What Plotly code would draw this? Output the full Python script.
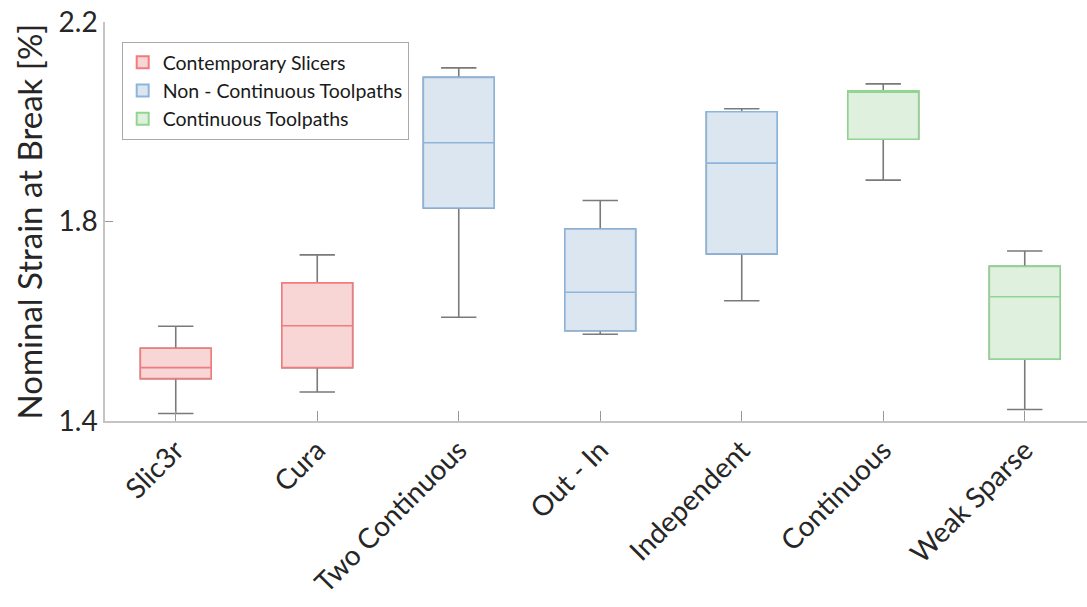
import plotly.graph_objects as go

categories = ["Slic3r", "Cura", "Two Continuous", "Out - In", "Independent", "Continuous", "Weak Sparse"]
groups = ["Contemporary Slicers", "Contemporary Slicers", "Non - Continuous Toolpaths",
          "Non - Continuous Toolpaths", "Non - Continuous Toolpaths", "Continuous Toolpaths",
          "Continuous Toolpaths"]
lower_whisker = [1.415, 1.458, 1.608, 1.574, 1.641, 1.883, 1.423]
q1 = [1.485, 1.507, 1.827, 1.581, 1.735, 1.965, 1.524]
median = [1.507, 1.591, 1.958, 1.658, 1.917, 2.059, 1.649]
q3 = [1.546, 1.677, 2.089, 1.785, 2.020, 2.062, 1.710]
upper_whisker = [1.590, 1.733, 2.108, 1.842, 2.026, 2.076, 1.741]
y_ticks = [1.4, 1.8, 2.2]

group_style = {
    "Contemporary Slicers": ("#F07C7C", "#F9D6D6"),
    "Non - Continuous Toolpaths": ("#8DB5DB", "#DCE6F0"),
    "Continuous Toolpaths": ("#92D492", "#DFF0DF"),
}

FONT = "Lato"
fig = go.Figure()
xs = list(range(1, len(categories) + 1))

# gray whiskers underneath
fig.add_trace(go.Box(
    x=xs, q1=q1, median=median, q3=q3,
    lowerfence=lower_whisker, upperfence=upper_whisker,
    width=0.5, whiskerwidth=0.5,
    line=dict(color="#7A7A7A", width=1.6),
    fillcolor="rgba(0,0,0,0)", showlegend=False, hoverinfo="skip",
    boxpoints=False,
))

for g, (lc, fc) in group_style.items():
    idx = [i for i, gg in enumerate(groups) if gg == g]
    fig.add_trace(go.Box(
        name=g,
        x=[xs[i] for i in idx],
        q1=[q1[i] for i in idx], median=[median[i] for i in idx], q3=[q3[i] for i in idx],
        lowerfence=[q1[i] for i in idx], upperfence=[q3[i] for i in idx],
        width=0.5, whiskerwidth=0,
        line=dict(color=lc, width=1.6),
        fillcolor=fc, boxpoints=False,
    ))

fig.update_layout(
    width=1087, height=607,
    margin=dict(l=105, r=0, t=22, b=186, autoexpand=False),
    boxmode="overlay",
    plot_bgcolor="white", paper_bgcolor="white",
    font=dict(family=FONT, color="#262626"),
    legend=dict(
        x=0.017, y=0.95, xanchor="left", yanchor="top",
        bordercolor="#AAAAAA", borderwidth=1, bgcolor="white",
        font=dict(family=FONT, size=19.5, color="#1a1a1a"),
        tracegroupgap=0, itemsizing="constant",
    ),
    xaxis=dict(
        range=[0.5, 7.44], tickmode="array", tickvals=xs, ticktext=categories,
        tickangle=-45, ticks="inside", ticklen=10, tickcolor="#999999",
        showline=True, linecolor="#C4C4C4", linewidth=1.5, showgrid=False, zeroline=False,
        tickfont=dict(family=FONT, size=28, color="#262626"),
        ticklabeloverflow="allow", automargin=False,
    ),
    yaxis=dict(
        range=[1.4, 2.2], tickmode="array", tickvals=y_ticks,
        ticktext=[f"{v:.1f}" for v in y_ticks],
        ticks="inside", ticklen=8, tickcolor="#999999",
        showline=True, linecolor="#C4C4C4", linewidth=1.5, showgrid=False, zeroline=False,
        tickfont=dict(family=FONT, size=28, color="#262626"),
        ticklabeloverflow="allow", automargin=False,
        title=dict(text="Nominal Strain at Break [%]", font=dict(family=FONT, size=33, color="#262626"),
                   standoff=6),
    ),
)

fig.write_html("out.html", config={"displayModeBar": False},
               post_script="document.body.style.margin='0';")
